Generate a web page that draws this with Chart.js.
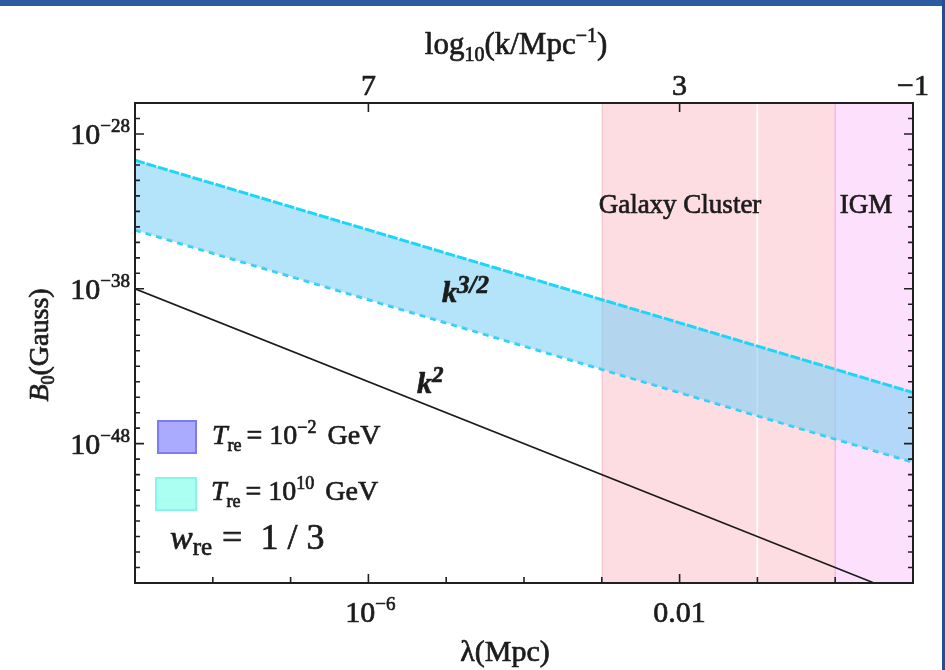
<!DOCTYPE html>
<html>
<head>
<meta charset="utf-8">
<script src="https://cdn.jsdelivr.net/npm/chart.js@4/dist/chart.umd.min.js"></script>
<style>
  html, body { margin: 0; padding: 0; background: #ffffff; }
  canvas { display: block; }
</style>
</head>
<body>
<canvas id="chart" width="945" height="670"></canvas>
<script>
// Wavelength grid (Mpc) at which the straight log-log lines are sampled
const lambdaMpc = [1e-9, 1e1];
// Upper and lower edge of the reheating band, B0 in Gauss (scales as k^{3/2})
const bandUpper = [2.0e-30, 2.0e-45];
const bandLower = [6.3e-35, 6.3e-50];
// k^2 reference line, B0 in Gauss
const k2Line = [1.0e-38, 1.0e-58];
// Observational regions in λ (Mpc)
const clusterBounds = [1e-3, 1e-1, 1e0];
const igmBounds = [1e0, 1e1];
// Axis ranges
const xRange = [1e-9, 1e1];
const yRange = [1e-57, 1e-26];
// Labelled ticks
const xLabelTicks = [1e-6, 1e-2];
const xLabelBase = ['10', '0.01'];
const xLabelExp = ['−6', ''];
const yLabelTicks = [1e-28, 1e-38, 1e-48];
const yLabelExp = ['−28', '−38', '−48'];
const topTickLambda = [1e-6, 1e-2, 1e1];
const topTickText = ['7', '3', '−1'];

const SERIF = '"Liberation Serif", "Times New Roman", "DejaVu Serif", serif';
const INK = '#1c1c1c';

function fontOf(s) {
  return (s.style || '') + ' ' + s.size + 'px ' + SERIF;
}

// Draws a run of text pieces (sub/superscripts via dy) on one baseline
function richText(ctx, segs, x, y, align) {
  ctx.save();
  ctx.textAlign = 'left';
  ctx.textBaseline = 'alphabetic';
  ctx.lineJoin = 'round';
  let total = 0;
  const widths = segs.map(s => {
    ctx.font = fontOf(s);
    const w = ctx.measureText(s.t).width + (s.gap || 0);
    total += w;
    return w;
  });
  let cx = align === 'center' ? x - total / 2 : (align === 'right' ? x - total : x);
  segs.forEach((s, i) => {
    ctx.font = fontOf(s);
    ctx.fillStyle = s.color || INK;
    ctx.strokeStyle = s.color || INK;
    ctx.lineWidth = 0.7;
    ctx.fillText(s.t, cx, y + (s.dy || 0));
    ctx.strokeText(s.t, cx, y + (s.dy || 0));
    cx += widths[i];
  });
  ctx.restore();
  return total;
}

function decades(lo, hi) {
  const out = [];
  for (let e = Math.round(Math.log10(lo)); e <= Math.round(Math.log10(hi)); e++) out.push(e);
  return out;
}

const decorPlugin = {
  id: 'decor',
  beforeDatasetsDraw(chart) {
    const { ctx, chartArea: a, scales: { x } } = chart;
    ctx.save();
    // Galaxy cluster band (two adjoining pieces)
    for (let i = 0; i < clusterBounds.length - 1; i++) {
      const x0 = x.getPixelForValue(clusterBounds[i]);
      const x1 = x.getPixelForValue(clusterBounds[i + 1]);
      ctx.fillStyle = '#fddde2';
      ctx.fillRect(x0, a.top, x1 - x0, a.bottom - a.top);
      ctx.strokeStyle = '#f7c2ca';
      ctx.lineWidth = 1.2;
      ctx.beginPath();
      ctx.moveTo(x0 + 0.5, a.top); ctx.lineTo(x0 + 0.5, a.bottom);
      ctx.stroke();
    }
    // IGM band
    const g0 = x.getPixelForValue(igmBounds[0]);
    const g1 = x.getPixelForValue(igmBounds[1]);
    ctx.fillStyle = '#fde0fb';
    ctx.fillRect(g0, a.top, g1 - g0, a.bottom - a.top);
    ctx.strokeStyle = '#f7b9dd';
    ctx.lineWidth = 1.5;
    ctx.beginPath();
    ctx.moveTo(g0, a.top); ctx.lineTo(g0, a.bottom);
    ctx.stroke();
    // thin light seam between the two cluster pieces
    const s = x.getPixelForValue(clusterBounds[1]);
    ctx.strokeStyle = '#ffffff';
    ctx.lineWidth = 2;
    ctx.beginPath();
    ctx.moveTo(s, a.top); ctx.lineTo(s, a.bottom);
    ctx.stroke();
    ctx.restore();
  },
  afterDatasetsDraw(chart) {
    const { ctx, chartArea: a, scales: { x, y } } = chart;
    ctx.save();

    // Region names
    richText(ctx, [{ t: 'Galaxy Cluster', size: 27 }], 680, 213, 'center');
    richText(ctx, [{ t: 'IGM', size: 27 }], 866, 213, 'center');

    // Slope labels
    richText(ctx, [
      { t: 'k', size: 30, style: 'italic bold' },
      { t: '3/2', size: 25, style: 'italic bold', dy: -9 }
    ], 442, 302, 'left');
    richText(ctx, [
      { t: 'k', size: 30, style: 'italic bold' },
      { t: '2', size: 23, style: 'italic bold', dy: -11 }
    ], 417, 393, 'left');

    // Legend swatches
    ctx.lineWidth = 2;
    ctx.fillStyle = '#aaaaff';
    ctx.strokeStyle = '#7b7bf6';
    ctx.fillRect(158, 421, 38, 32);
    ctx.strokeRect(158, 421, 38, 32);
    ctx.fillStyle = '#aafff0';
    ctx.strokeStyle = '#86f6e6';
    ctx.fillRect(156, 478, 40, 32);
    ctx.strokeRect(156, 478, 40, 32);

    richText(ctx, [
      { t: 'T', size: 28, style: 'italic' },
      { t: 're', size: 18, dy: 7, gap: 5 },
      { t: '= 10', size: 28 },
      { t: '−2', size: 18, dy: -11, gap: 4 },
      { t: ' GeV', size: 28 }
    ], 212, 444, 'left');
    richText(ctx, [
      { t: 'T', size: 28, style: 'italic' },
      { t: 're', size: 18, dy: 7, gap: 5 },
      { t: '= 10', size: 28 },
      { t: '10', size: 18, dy: -11, gap: 4 },
      { t: ' GeV', size: 28 }
    ], 211, 500, 'left');
    richText(ctx, [
      { t: 'w', size: 34, style: 'italic' },
      { t: 're', size: 25, dy: 6, gap: 10 },
      { t: '=  1 / 3', size: 36 }
    ], 170, 549, 'left');

    // Frame
    ctx.strokeStyle = '#202020';
    ctx.lineWidth = 2;
    ctx.strokeRect(a.left, a.top, a.right - a.left, a.bottom - a.top);

    // Inward tick marks, one per decade
    ctx.lineWidth = 1.6;
    ctx.beginPath();
    decades(xRange[0], xRange[1]).forEach(e => {
      const px = x.getPixelForValue(Math.pow(10, e));
      const major = xLabelTicks.some(v => Math.abs(Math.log10(v) - e) < 1e-6);
      const len = major ? 9 : 6;
      ctx.moveTo(px, a.bottom); ctx.lineTo(px, a.bottom - len);
    });
    topTickLambda.slice(0, 2).forEach(v => {
      const px = x.getPixelForValue(v);
      ctx.moveTo(px, a.top); ctx.lineTo(px, a.top + 9);
    });
    decades(yRange[0], yRange[1]).forEach(e => {
      const py = y.getPixelForValue(Math.pow(10, e));
      const major = yLabelTicks.some(v => Math.abs(Math.log10(v) - e) < 1e-6);
      const len = major ? 9 : 5;
      ctx.moveTo(a.left, py); ctx.lineTo(a.left + len, py);
      ctx.moveTo(a.right, py); ctx.lineTo(a.right - len, py);
    });
    ctx.stroke();

    // Bottom tick labels
    xLabelTicks.forEach((v, i) => {
      const px = x.getPixelForValue(v);
      const segs = [{ t: xLabelBase[i], size: 30 }];
      if (xLabelExp[i]) segs.push({ t: xLabelExp[i], size: 19, dy: -12 });
      richText(ctx, segs, px + (xLabelExp[i] ? 2 : 0), 622, 'center');
    });
    // Left tick labels
    yLabelTicks.forEach((v, i) => {
      const py = y.getPixelForValue(v);
      richText(ctx, [
        { t: '10', size: 30 },
        { t: yLabelExp[i], size: 19, dy: -12 }
      ], a.left - 5, py + 10, 'right');
    });
    // Top tick labels
    topTickLambda.forEach((v, i) => {
      const px = x.getPixelForValue(v);
      richText(ctx, [{ t: topTickText[i], size: 30 }], px, 95, 'center');
    });

    // Axis titles
    richText(ctx, [
      { t: 'log', size: 31 },
      { t: '10', size: 20, dy: 7 },
      { t: '(k/Mpc', size: 31 },
      { t: '−1', size: 20, dy: -12 },
      { t: ')', size: 31 }
    ], 516, 54, 'center');
    richText(ctx, [{ t: 'λ(Mpc)', size: 30 }], 505, 661, 'center');
    ctx.save();
    ctx.translate(48, 345);
    ctx.rotate(-Math.PI / 2);
    richText(ctx, [
      { t: 'B', size: 28, style: 'italic' },
      { t: '0', size: 18, dy: 6 },
      { t: '(Gauss)', size: 28 }
    ], 0, 0, 'center');
    ctx.restore();

    // Page border
    ctx.fillStyle = '#2c5ba1';
    ctx.fillRect(0, 0, chart.width, 6);
    ctx.fillStyle = '#214e98';
    ctx.fillRect(chart.width - 3, 0, 3, chart.height);
    ctx.restore();
  }
};

const pts = (ys) => lambdaMpc.map((lx, i) => ({ x: lx, y: ys[i] }));

new Chart(document.getElementById('chart'), {
  type: 'line',
  data: {
    datasets: [
      {
        label: 'upper edge',
        data: pts(bandUpper),
        borderColor: '#1dd5f6',
        borderWidth: 3,
        borderDash: [10, 2],
        backgroundColor: 'rgba(126,208,246,0.58)',
        fill: '+1',
        pointRadius: 0,
        tension: 0
      },
      {
        label: 'lower edge',
        data: pts(bandLower),
        borderColor: '#22d2f6',
        borderWidth: 3,
        borderDash: [6, 5],
        fill: false,
        pointRadius: 0,
        tension: 0
      },
      {
        label: 'k^2',
        data: pts(k2Line),
        borderColor: '#1b1b1b',
        borderWidth: 1.6,
        fill: false,
        pointRadius: 0,
        tension: 0
      }
    ]
  },
  options: {
    responsive: false,
    animation: false,
    layout: { padding: { left: 135, right: 32, top: 103, bottom: 87 } },
    scales: {
      x: { type: 'logarithmic', min: xRange[0], max: xRange[1], display: false },
      y: { type: 'logarithmic', min: yRange[0], max: yRange[1], display: false }
    },
    plugins: {
      legend: { display: false },
      tooltip: { enabled: false }
    }
  },
  plugins: [decorPlugin]
});
</script>
</body>
</html>
